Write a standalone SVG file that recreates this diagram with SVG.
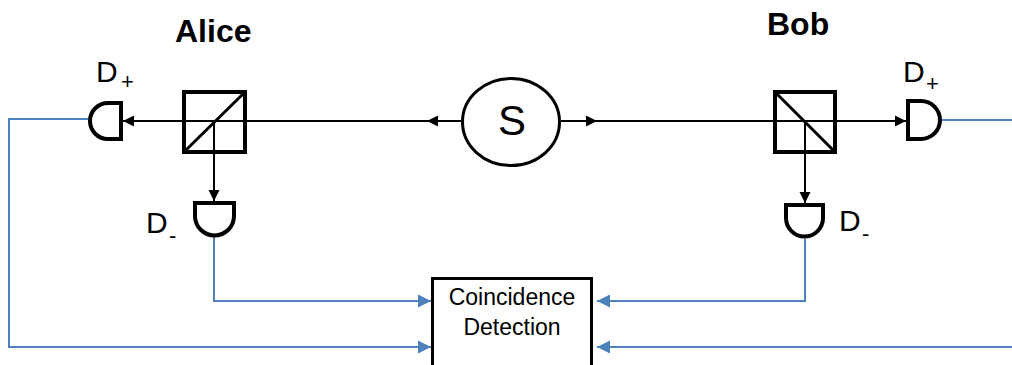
<svg xmlns="http://www.w3.org/2000/svg" width="1012" height="365" viewBox="0 0 1012 365">
<style>
.beam{stroke:#000;stroke-width:2;fill:none}
.shape{stroke:#000;stroke-width:4;fill:#fff}
.sig{stroke:#4f81bd;stroke-width:2;fill:none}
.lbl{font-family:"Liberation Sans",Arial,sans-serif;fill:#000}
.title{font-family:"Liberation Sans",Arial,sans-serif;font-weight:bold;font-size:32px;fill:#000}
</style>
<defs>
<marker id="ab" markerUnits="userSpaceOnUse" markerWidth="12" markerHeight="12" refX="11" refY="6" orient="auto">
<path d="M0,0.5 L11,6 L0,11.5 Z" fill="#000"/>
</marker>
<marker id="ablue" markerUnits="userSpaceOnUse" markerWidth="14" markerHeight="14" refX="13" refY="7" orient="auto">
<path d="M0,0.5 L13,7 L0,13.5 Z" fill="#4f81bd"/>
</marker>
</defs>
<g id="connectors">
<line class="beam" x1="461" y1="121" x2="427" y2="121" marker-end="url(#ab)"/>
<line class="beam" x1="428" y1="121" x2="123" y2="121" marker-end="url(#ab)"/>
<line class="beam" x1="561" y1="121" x2="597" y2="121" marker-end="url(#ab)"/>
<line class="beam" x1="596" y1="121" x2="906" y2="121" marker-end="url(#ab)"/>
<line class="beam" x1="214" y1="121" x2="214" y2="201" marker-end="url(#ab)"/>
<line class="beam" x1="805" y1="121" x2="805" y2="203" marker-end="url(#ab)"/>
<path class="sig" d="M88,119 H9 V347 H431" marker-end="url(#ablue)"/>
<path class="sig" d="M214,237 V301 H431" marker-end="url(#ablue)"/>
<path class="sig" d="M805,239 V301 H597" marker-end="url(#ablue)"/>
<path class="sig" d="M942,120 H1012"/>
<path class="sig" d="M1012,347 H597" marker-end="url(#ablue)"/>
</g>
<g id="alice-label"><text class="title" x="175" y="42">Alice</text></g>
<g id="bob-label"><text class="title" x="767" y="35">Bob</text></g>
<g id="alice-bs">
<rect x="184" y="92" width="61" height="60" fill="none" stroke="#000" stroke-width="4"/>
<line x1="184" y1="152" x2="245" y2="92" stroke="#000" stroke-width="3"/>
</g>
<g id="bob-bs">
<rect x="775" y="92" width="60" height="60" fill="none" stroke="#000" stroke-width="4"/>
<line x1="775" y1="92" x2="835" y2="152" stroke="#000" stroke-width="3"/>
</g>
<g id="alice-dplus">
<path class="shape" d="M121,103 H108 A18,18 0 0 0 108,139 H121 Z"/>
<text class="lbl" x="96" y="82" font-size="30">D<tspan x="121" y="89" font-size="22">+</tspan></text>
</g>
<g id="alice-dminus">
<path class="shape" d="M195,203 H234 V216 A19.5,19.5 0 0 1 195,216 Z"/>
<text class="lbl" x="146" y="233" font-size="30">D<tspan x="169" y="243" font-size="22">-</tspan></text>
</g>
<g id="bob-dplus">
<path class="shape" d="M908,101 H921 A19,19 0 0 1 921,139 H908 Z"/>
<text class="lbl" x="903" y="82" font-size="30">D<tspan x="926" y="91" font-size="22">+</tspan></text>
</g>
<g id="bob-dminus">
<path class="shape" d="M786,205 H823 V218 A18.5,18.5 0 0 1 786,218 Z"/>
<text class="lbl" x="839" y="231" font-size="30">D<tspan x="862" y="241" font-size="22">-</tspan></text>
</g>
<g id="source">
<ellipse cx="511" cy="122" rx="48.5" ry="43.5" fill="#fff" stroke="#000" stroke-width="3"/>
<text class="lbl" x="512" y="135" font-size="42" text-anchor="middle">S</text>
</g>
<g id="coincidence">
<rect x="432.5" y="278.5" width="159" height="100" fill="#fff" stroke="#000" stroke-width="3"/>
<text class="lbl" x="512" y="305" font-size="23" text-anchor="middle">Coincidence</text>
<text class="lbl" x="512" y="335" font-size="23" text-anchor="middle">Detection</text>
</g>
</svg>
